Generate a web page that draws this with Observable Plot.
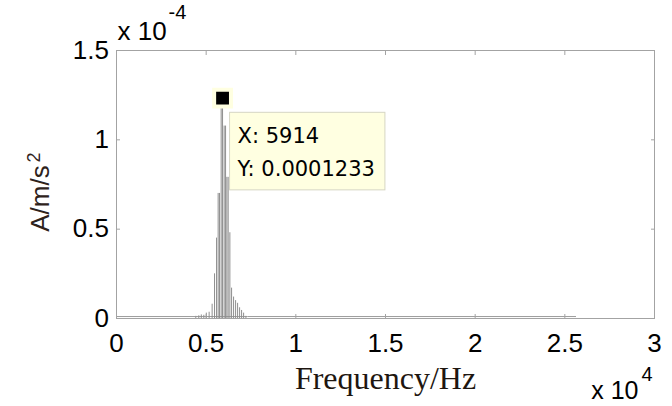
<!DOCTYPE html>
<html><head><meta charset="utf-8">
<script src="https://cdn.jsdelivr.net/npm/d3@7"></script>
<script src="https://cdn.jsdelivr.net/npm/@observablehq/plot@0.6"></script>
<style>body{margin:0;background:#fff} svg{display:block}</style>
</head><body><div id="chart"></div>
<script>
// Tick values and labels
const xTicks = [0, 5000, 10000, 15000, 20000, 25000, 30000];
const xTickLabels = ["0", "0.5", "1", "1.5", "2", "2.5", "3"];
const yTicks = [0, 0.5e-4, 1e-4, 1.5e-4];
const yTickLabels = ["0", "0.5", "1", "1.5"];

// Spectral lines (Hz) and amplitudes (A/m/s^2)
const stemFreq = [4421, 4589, 4729, 4869, 5008, 5165, 5333, 5467, 5579, 5668, 5746, 5836, 5914,
                  6003, 6082, 6154, 6227, 6322, 6417, 6529, 6641, 6753, 6864, 6976, 7088, 7216];
const stemAmp = [0.012e-4, 0.015e-4, 0.02e-4, 0.018e-4, 0.03e-4, 0.035e-4, 0.08e-4, 0.25e-4, 0.45e-4,
                 0.70e-4, 0.70e-4, 1.20e-4, 1.233e-4, 1.077e-4, 1.077e-4, 0.79e-4, 0.79e-4, 0.48e-4,
                 0.17e-4, 0.12e-4, 0.10e-4, 0.085e-4, 0.06e-4, 0.045e-4, 0.03e-4, 0.012e-4];

// Noise floor
const floorFreq = [0, 4400, 7300, 25600];
const floorAmp = [0.011e-4, 0.011e-4, 0.011e-4, 0.011e-4];

// Data tip
const peakX = 5914;
const peakY = 0.0001233;

const stems = stemFreq.map((f, i) => ({f, a: stemAmp[i]}));
const floor = floorFreq.map((f, i) => ({f, a: floorAmp[i]}));
const tip = [{x: peakX, y: peakY, label: `X: ${peakX}\nY: ${peakY}`}];

const sans = "'Liberation Sans', Arial, Helvetica, sans-serif";
const gray = "#a3a3a3";

const chart = Plot.plot({
  width: 672, height: 406,
  marginLeft: 116, marginRight: 18, marginTop: 50, marginBottom: 88,
  x: {domain: [0, 30000], axis: null},
  y: {domain: [0, 1.5e-4], axis: null},
  style: {fontFamily: sans, background: "#fff", color: "#000"},
  marks: [
    Plot.frame({stroke: gray}),
    Plot.line(floor, {x: "f", y: "a", stroke: "#9c9c9c", strokeWidth: 1}),
    Plot.ruleX(stems, {x: "f", y1: 0, y2: "a", stroke: "#8e8e8e", strokeWidth: 1}),
    Plot.axisX(xTicks, {anchor: "bottom", label: null, tickSize: -4, tickPadding: 19, stroke: gray,
      tickFormat: d => xTickLabels[xTicks.indexOf(d)], fontSize: 26, fill: "#000"}),
    Plot.axisX(xTicks, {anchor: "top", label: null, tickSize: -4, stroke: gray, tickFormat: () => ""}),
    Plot.axisY(yTicks, {anchor: "left", label: null, tickSize: -4, tickPadding: 11.5, stroke: gray,
      tickFormat: d => yTickLabels[yTicks.indexOf(d)], fontSize: 26, fill: "#000"}),
    Plot.axisY(yTicks, {anchor: "right", label: null, tickSize: -4, stroke: gray, tickFormat: () => ""}),
    Plot.dot(tip, {x: "x", y: "y", symbol: "square", r: 9.5, fill: "#000", stroke: "#ffffe1", strokeWidth: 4}),
    Plot.text(tip, {x: "x", y: "y", text: "label", textAnchor: "start", lineAnchor: "top",
      dx: 15, dy: 22, fontSize: 21, lineHeight: 1.55, fill: "#000", fontFamily: "'DejaVu Sans', sans-serif"}),
    // exponent labels
    Plot.text(["x 10"], {frameAnchor: "top-left", textAnchor: "start", lineAnchor: "middle", dx: 1, dy: -19, fontSize: 26}),
    Plot.text(["-4"], {frameAnchor: "top-left", textAnchor: "start", lineAnchor: "middle", dx: 52, dy: -38, fontSize: 20}),
    Plot.text(["x 10"], {frameAnchor: "bottom-right", textAnchor: "end", lineAnchor: "middle", dx: -16, dy: 72, fontSize: 25}),
    Plot.text(["4"], {frameAnchor: "bottom-right", textAnchor: "start", lineAnchor: "middle", dx: -13, dy: 56, fontSize: 20}),
    // axis titles
    Plot.text(["Frequency/Hz"], {frameAnchor: "bottom", lineAnchor: "middle", dy: 60, fontSize: 32,
      fontFamily: "'Liberation Serif', 'Times New Roman', serif", fill: "#1e1610"}),
    Plot.text(["A/m/s"], {frameAnchor: "left", rotate: -90, textAnchor: "middle", lineAnchor: "middle",
      dx: -76, dy: 14, fontSize: 26, fill: "#2e221b"}),
    Plot.text(["2"], {frameAnchor: "left", rotate: -90, textAnchor: "middle", lineAnchor: "middle",
      dx: -82, dy: -27, fontSize: 18, fill: "#2e221b"})
  ]
});
document.getElementById("chart").append(chart);

// Data-tip background box sized to its text
const t = [...chart.querySelectorAll("text")].find(el => el.textContent.startsWith("X:"));
if (t) {
  const s = chart.getBoundingClientRect();
  const r = t.getBoundingClientRect();
  const rect = document.createElementNS("http://www.w3.org/2000/svg", "rect");
  rect.setAttribute("x", r.left - s.left - 7);
  rect.setAttribute("y", r.top - s.top - 12);
  rect.setAttribute("width", r.width + 17);
  rect.setAttribute("height", r.height + 21);
  rect.setAttribute("fill", "#ffffe1");
  rect.setAttribute("stroke", "#d6d6c4");
  const g = t.parentNode;
  g.parentNode.insertBefore(rect, g);
}
</script>
</body></html>
